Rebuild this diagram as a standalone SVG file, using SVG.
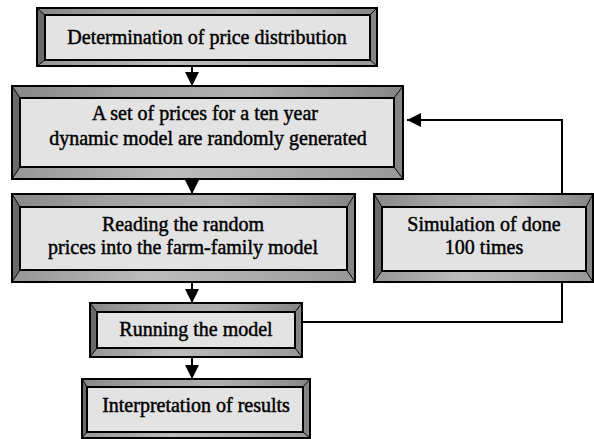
<svg xmlns="http://www.w3.org/2000/svg" width="594" height="439" viewBox="0 0 594 439">
<defs>
<style>
.bt{fill:url(#gt)}
.bb{fill:url(#gb)}
.bl{fill:#6a6a6a}
.br{fill:#858585}
.edge{fill:none;stroke:#000;stroke-width:2}
.diag{stroke:#000;stroke-width:1}
.face{fill:#e3e3e3;stroke:#000;stroke-width:2}
.t{font-family:"Liberation Serif","Times New Roman",serif;font-size:20px;fill:#000;stroke:#000;stroke-width:0.45;text-anchor:middle}
.ln{fill:none;stroke:#000;stroke-width:2}
</style>
<linearGradient id="gt" x1="0" y1="0" x2="1" y2="0">
<stop offset="0" stop-color="#888"/><stop offset="0.3" stop-color="#a4a4a4"/><stop offset="0.6" stop-color="#b0b0b0"/><stop offset="1" stop-color="#868686"/>
</linearGradient>
<linearGradient id="gb" x1="0" y1="0" x2="1" y2="0">
<stop offset="0" stop-color="#969696"/><stop offset="0.4" stop-color="#bcbcbc"/><stop offset="0.7" stop-color="#acacac"/><stop offset="1" stop-color="#989898"/>
</linearGradient>
<marker id="ah" viewBox="0 0 10 10" refX="10" refY="5" markerWidth="7" markerHeight="7" orient="auto" markerUnits="strokeWidth">
<path d="M0,0 L10,5 L0,10 Z" fill="#000"/>
</marker>
</defs>

<g id="connectors">
<line class="ln" x1="192" y1="66" x2="192" y2="86" marker-end="url(#ah)"/>
<line class="ln" x1="192" y1="179" x2="192" y2="194" marker-end="url(#ah)"/>
<line class="ln" x1="192" y1="282" x2="192" y2="303" marker-end="url(#ah)"/>
<line class="ln" x1="192" y1="357" x2="192" y2="379" marker-end="url(#ah)"/>
<polyline class="ln" points="302,322 562,322 562,282"/>
<polyline class="ln" points="562,194 562,120 407,120" marker-end="url(#ah)"/>
</g>

<g id="n1">
<polygon class="bt" points="37,8 377,8 370,15 45,15"/>
<polygon class="bb" points="37,66 377,66 370,60 45,60"/>
<polygon class="bl" points="37,8 45,15 45,60 37,66"/>
<polygon class="br" points="377,8 370,15 370,60 377,66"/>
<rect class="edge" x="37" y="8" width="340" height="58"/>
<path class="diag" d="M37,8L45,15M377,8L370,15M37,66L45,60M377,66L370,60"/>
<rect class="face" x="45" y="15" width="325" height="45"/>
<text class="t" x="207" y="44">Determination of price distribution</text>
</g>

<g id="n2">
<polygon class="bt" points="12,86 403,86 394,98 20,98"/>
<polygon class="bb" points="12,179 403,179 394,167 20,167"/>
<polygon class="bl" points="12,86 20,98 20,167 12,179"/>
<polygon class="br" points="403,86 394,98 394,167 403,179"/>
<rect class="edge" x="12" y="86" width="391" height="93"/>
<path class="diag" d="M12,86L20,98M403,86L394,98M12,179L20,167M403,179L394,167"/>
<rect class="face" x="20" y="98" width="374" height="69"/>
<text class="t" x="205" y="120">A set of prices for a ten year</text>
<text class="t" x="208" y="145">dynamic model are randomly generated</text>
</g>

<g id="n3">
<polygon class="bt" points="12,194 355,194 347,207 20,207"/>
<polygon class="bb" points="12,282 355,282 347,270 20,270"/>
<polygon class="bl" points="12,194 20,207 20,270 12,282"/>
<polygon class="br" points="355,194 347,207 347,270 355,282"/>
<rect class="edge" x="12" y="194" width="343" height="88"/>
<path class="diag" d="M12,194L20,207M355,194L347,207M12,282L20,270M355,282L347,270"/>
<rect class="face" x="20" y="207" width="327" height="63"/>
<text class="t" x="183" y="231">Reading the random</text>
<text class="t" x="183" y="254">prices into the farm-family model</text>
</g>

<g id="n4">
<polygon class="bt" points="374,194 593,194 586,207 382,207"/>
<polygon class="bb" points="374,282 593,282 586,271 382,271"/>
<polygon class="bl" points="374,194 382,207 382,271 374,282"/>
<polygon class="br" points="593,194 586,207 586,271 593,282"/>
<rect class="edge" x="374" y="194" width="219" height="88"/>
<path class="diag" d="M374,194L382,207M593,194L586,207M374,282L382,271M593,282L586,271"/>
<rect class="face" x="382" y="207" width="204" height="64"/>
<text class="t" x="484" y="231">Simulation of done</text>
<text class="t" x="484" y="254">100 times</text>
</g>

<g id="n5">
<polygon class="bt" points="90,303 302,303 295,312 97,312"/>
<polygon class="bb" points="90,357 302,357 295,348 97,348"/>
<polygon class="bl" points="90,303 97,312 97,348 90,357"/>
<polygon class="br" points="302,303 295,312 295,348 302,357"/>
<rect class="edge" x="90" y="303" width="212" height="54"/>
<path class="diag" d="M90,303L97,312M302,303L295,312M90,357L97,348M302,357L295,348"/>
<rect class="face" x="97" y="312" width="198" height="36"/>
<text class="t" x="196" y="336">Running the model</text>
</g>

<g id="n6">
<polygon class="bt" points="82,379 310,379 303,387 87,387"/>
<polygon class="bb" points="82,438 310,438 303,432 87,432"/>
<polygon class="bl" points="82,379 87,387 87,432 82,438"/>
<polygon class="br" points="310,379 303,387 303,432 310,438"/>
<rect class="edge" x="82" y="379" width="228" height="59"/>
<path class="diag" d="M82,379L87,387M310,379L303,387M82,438L87,432M310,438L303,432"/>
<rect class="face" x="87" y="387" width="216" height="45"/>
<text class="t" x="196" y="412">Interpretation of results</text>
</g>
</svg>
